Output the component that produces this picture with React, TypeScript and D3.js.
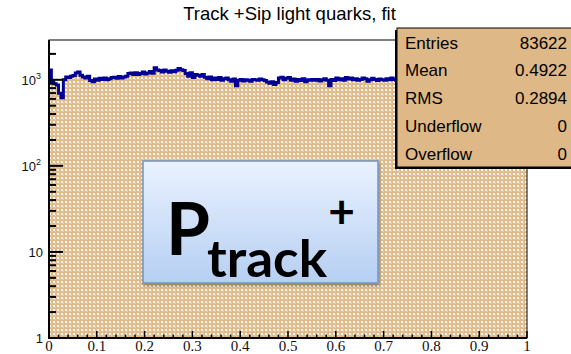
import React from "react";
import * as d3 from "d3";

// Histogram contents: 200 bins over [0, 1]
const binCounts: number[] = [
  1300, 950, 900, 870, 700, 620, 1000, 1075, 1060, 1100,
  1120, 1200, 1230, 1130, 1080, 1050, 1100, 980, 950, 1020,
  990, 1040, 1010, 1050, 1000, 1030, 1060, 1070, 1040, 1090,
  1050, 1080, 1100, 1180, 1200, 1150, 1210, 1150, 1180, 1230,
  1170, 1200, 1250, 1190, 1380, 1300, 1280, 1230, 1300, 1260,
  1220, 1270, 1240, 1290, 1350, 1310, 1280, 1180, 1100, 1210,
  1060, 1150, 1130, 1100, 1150, 1070, 1030, 1080, 1000, 1050,
  1010, 1060, 990, 1030, 1050, 1000, 960, 1020, 850, 990,
  1010, 970, 1000, 990, 960, 1010, 1000, 990, 1020, 1000,
  980, 940, 910, 950, 880, 930, 1050, 1070, 1000, 1040,
  1060, 990, 1020, 960, 1010, 980, 1030, 950, 1000, 990,
  1010, 990, 1010, 970, 1000, 1030, 990, 850, 1010, 980,
  1050, 1000, 1030, 990, 1060, 1020, 1050, 1000, 1030, 990,
  1010, 1050, 1030, 960, 1000, 1040, 1010, 980, 1020, 1000,
  990, 1030, 1000, 1050, 1010, 990, 1000, 980, 1010, 990,
  970, 1000, 980, 960, 990, 1010, 970, 950, 980, 960,
  940, 970, 950, 930, 960, 980, 940, 920, 950, 930,
  910, 940, 920, 900, 930, 950, 910, 890, 920, 900,
  880, 910, 890, 870, 900, 920, 880, 860, 890, 870,
  850, 880, 860, 840, 870, 890, 850, 830, 860, 840,
];

const xDomain: [number, number] = [0, 1];
const yDomain: [number, number] = [1, 2900];

const xMajorTicks = [0, 0.1, 0.2, 0.3, 0.4, 0.5, 0.6, 0.7, 0.8, 0.9, 1];
const xTickLabels = ["0", "0.1", "0.2", "0.3", "0.4", "0.5", "0.6", "0.7", "0.8", "0.9", "1"];
const yMajorTicks = [1, 10, 100, 1000];
const yTickBase = ["1", "10", "10", "10"];
const yTickExp = ["", "", "2", "3"];

const statNames = ["Entries", "Mean", "RMS", "Underflow", "Overflow"];
const statValues = ["83622", "0.4922", "0.2894", "0", "0"];

const titleText = "Track +Sip light quarks, fit";

const W = 571;
const H = 354;
const plot = { left: 49, right: 527, top: 40, bottom: 338 };

export default function App() {
  const x = d3.scaleLinear().domain(xDomain).range([plot.left, plot.right]);
  const y = d3.scaleLog().domain(yDomain).range([plot.bottom, plot.top]);

  const n = binCounts.length;
  const binW = (xDomain[1] - xDomain[0]) / n;
  const steps: [number, number][] = [];
  binCounts.forEach((v, i) => {
    steps.push([xDomain[0] + i * binW, v]);
  });
  steps.push([xDomain[1], binCounts[n - 1]]);

  const stepLine = d3
    .line<[number, number]>()
    .x((d) => x(d[0]))
    .y((d) => y(Math.max(d[1], yDomain[0])))
    .curve(d3.curveStepAfter);

  const stepArea = d3
    .area<[number, number]>()
    .x((d) => x(d[0]))
    .y0(y(yDomain[0]))
    .y1((d) => y(Math.max(d[1], yDomain[0])))
    .curve(d3.curveStepAfter);

  const xMinor = d3.range(0, 1.0001, 0.02).filter((v) => Math.abs(Math.round(v * 10) - v * 10) > 1e-6);
  const yMinor: number[] = [];
  [1, 10, 100, 1000].forEach((dec) => {
    for (let k = 2; k <= 9; k++) {
      const v = dec * k;
      if (v < yDomain[1]) yMinor.push(v);
    }
  });

  const statRowY = d3.scaleLinear().domain([0, statNames.length - 1]).range([48.5, 159.5]);

  return (
    <svg width={W} height={H} style={{ position: "absolute", left: 0, top: 0 }}
      fontFamily="'Liberation Sans', Arial, sans-serif">
      <defs>
        <pattern id="dots" width="4" height="4" patternUnits="userSpaceOnUse">
          <rect width="4" height="4" fill="#E0BB89" />
          <rect x="1" y="1" width="2" height="2" fill="#ffffff" opacity="0.9" />
          <rect x="3" y="3" width="1" height="1" fill="#ffffff" opacity="0.35" />
        </pattern>
        <linearGradient id="boxGrad" x1="0" y1="0" x2="0" y2="1">
          <stop offset="0" stopColor="#EAF2FE" />
          <stop offset="1" stopColor="#B6CFF3" />
        </linearGradient>
        <filter id="soft" x="-10%" y="-10%" width="120%" height="130%">
          <feDropShadow dx="1" dy="2" stdDeviation="1.5" floodColor="#000" floodOpacity="0.35" />
        </filter>
        <clipPath id="plotClip">
          <rect x={plot.left} y={plot.top} width={plot.right - plot.left} height={plot.bottom - plot.top} />
        </clipPath>
      </defs>
      <rect width={W} height={H} fill="#fff" />

      {/* histogram body */}
      <g clipPath="url(#plotClip)">
        <path d={stepArea(steps) || ""} fill="url(#dots)" />
        <path d={stepLine(steps) || ""} fill="none" stroke="#000099" strokeWidth={3} />
      </g>

      {/* frame */}
      <rect x={plot.left} y={plot.top} width={plot.right - plot.left} height={plot.bottom - plot.top}
        fill="none" stroke="#000" strokeWidth={1} />
      <line x1={plot.left} x2={plot.left} y1={plot.top} y2={plot.bottom + 1} stroke="#000" strokeWidth={2} />
      <line x1={plot.left - 1} x2={plot.right} y1={plot.bottom} y2={plot.bottom} stroke="#000" strokeWidth={2} />

      {/* x ticks */}
      {xMajorTicks.map((t) => (
        <line key={"xM" + t} x1={x(t)} x2={x(t)} y1={plot.bottom} y2={plot.bottom - 7} stroke="#000" strokeWidth={1.5} />
      ))}
      {xMinor.map((t) => (
        <line key={"xm" + t} x1={x(t)} x2={x(t)} y1={plot.bottom} y2={plot.bottom - 3.5} stroke="#000" strokeWidth={1.5} />
      ))}
      {xMajorTicks.map((t, i) => (
        <text key={"xl" + t} x={x(t)} y={351} textAnchor="middle" fontSize={15}
          fontFamily="'Liberation Serif', 'Times New Roman', serif" fill="#111">
          {xTickLabels[i]}
        </text>
      ))}

      {/* y ticks */}
      {yMajorTicks.map((t) => (
        <line key={"yM" + t} x1={plot.left} x2={plot.left + 14} y1={y(t)} y2={y(t)} stroke="#000" strokeWidth={2} />
      ))}
      {yMinor.map((t) => (
        <line key={"ym" + t} x1={plot.left} x2={plot.left + 7} y1={y(t)} y2={y(t)} stroke="#000" strokeWidth={2} />
      ))}
      {yMajorTicks.map((t, i) => (
        <text key={"yl" + t} x={yTickExp[i] ? 36 : 43} y={y(t) + 5} textAnchor="end" fontSize={13} fill="#111">
          {yTickBase[i]}
        </text>
      ))}
      {yMajorTicks.map((t, i) =>
        yTickExp[i] ? (
          <text key={"ye" + t} x={36} y={y(t) - 1} fontSize={9} fill="#111">
            {yTickExp[i]}
          </text>
        ) : null
      )}

      {/* title */}
      <text x={289.5} y={20} textAnchor="middle" fontSize={18.5} fill="#000">
        {titleText}
      </text>

      {/* statistics box */}
      <rect x={395} y={30} width={180} height={139} fill="#000" />
      <rect x={397} y={28} width={178} height={139} fill="#DEB887" stroke="#000" strokeWidth={1} />
      {statNames.map((s, i) => (
        <g key={s}>
          <text x={405} y={statRowY(i)} fontSize={17} fill="#000">{s}</text>
          <text x={567} y={statRowY(i)} fontSize={17} fill="#000" textAnchor="end">{statValues[i]}</text>
        </g>
      ))}

      {/* variable label */}
      <rect x={143} y={161} width={235} height={122} fill="url(#boxGrad)" stroke="#7393C4" strokeWidth={1.5}
        filter="url(#soft)" />
      <g fontFamily="Lato, 'Open Sans', sans-serif" fontWeight={700} fill="#000">
        <text x={166} y={255} fontSize={72} textLength={44} lengthAdjust="spacingAndGlyphs">P</text>
        <text x={207} y={277} fontSize={52} textLength={120} lengthAdjust="spacingAndGlyphs">track</text>
        <text x={341.5} y={228} fontSize={46} textAnchor="middle">+</text>
      </g>
    </svg>
  );
}
